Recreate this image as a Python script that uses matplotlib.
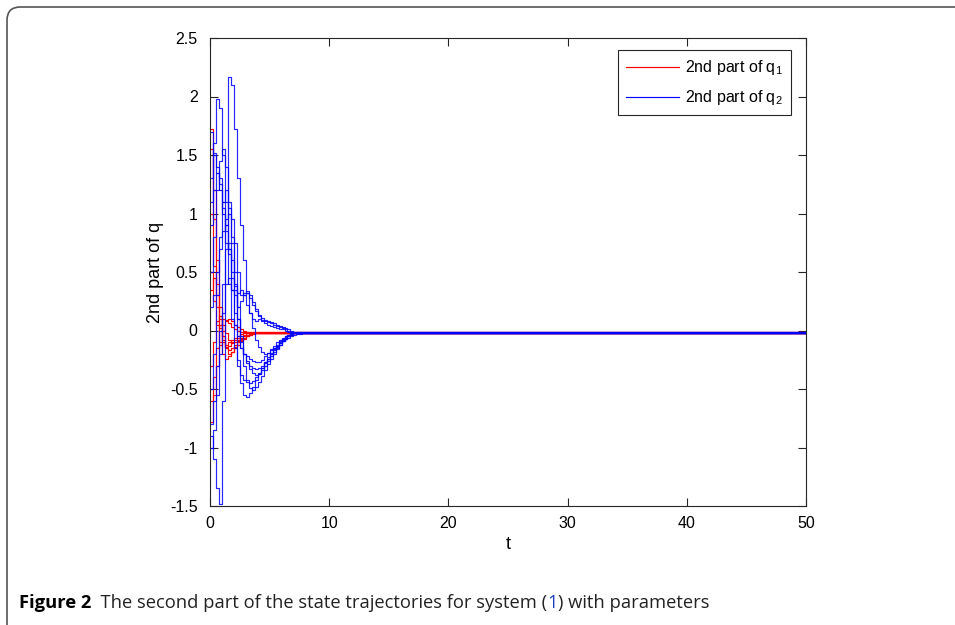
import numpy as np
import matplotlib
matplotlib.use("Agg")
import matplotlib.pyplot as plt
from matplotlib.patches import FancyBboxPatch

plt.rcParams['font.family'] = ['Liberation Sans', 'DejaVu Sans']
plt.rcParams['mathtext.fontset'] = 'custom'
plt.rcParams['mathtext.rm'] = 'Liberation Sans'
plt.rcParams['mathtext.it'] = 'Liberation Sans'

# ---------------- data ----------------
dt = 0.25            # sampling step of the trajectories
t_end = 50.0
steady = -0.02       # common final value

q1_part2 = [
    [1.72, 1.2, 0.6, 0.2, -0.05, -0.15, -0.2, -0.18, -0.15, -0.12, -0.09, -0.07, -0.05, -0.04, -0.03, -0.025],
    [1.55, 0.95, 0.4, 0.05, -0.1, -0.14, -0.13, -0.1, -0.08, -0.06, -0.045, -0.035, -0.025],
    [1.0, 0.55, 0.2, 0.02, -0.08, -0.12, -0.1, -0.08, -0.06, -0.045, -0.03, -0.025],
    [-0.78, -0.55, -0.3, -0.12, 0.0, 0.08, 0.1, 0.08, 0.05, 0.03, 0.01, 0.0, -0.01, -0.015],
    [-0.6, -0.4, -0.15, 0.05, 0.1, 0.09, 0.06, 0.03, 0.01, 0.0, -0.01, -0.015],
    [0.5, 0.25, 0.05, -0.1, -0.2, -0.24, -0.22, -0.18, -0.14, -0.1, -0.08, -0.06, -0.045, -0.035, -0.025],
    [-0.3, -0.1, 0.08, 0.12, 0.05, -0.02, -0.08, -0.11, -0.1, -0.08, -0.06, -0.045, -0.035, -0.025],
    [0.35, 0.45, 0.3, 0.1, -0.05, -0.15, -0.17, -0.15, -0.12, -0.09, -0.07, -0.05, -0.04, -0.03, -0.025],
]

q2_part2 = [
    [-0.9, -1.1, -1.35, -1.48, -0.6, 0.9, 2.17, 2.1, 1.72, 1.3, 0.9, 0.6, 0.32, 0.15, 0.02,
     -0.08, -0.14, -0.18, -0.2, -0.19, -0.17, -0.15, -0.13, -0.11, -0.09, -0.075, -0.06, -0.05,
     -0.04, -0.033, -0.027, -0.022],
    [1.1, 1.6, 1.98, 1.9, 1.5, 1.1, 0.7, 0.35, 0.05, -0.25, -0.45, -0.55, -0.57, -0.53, -0.48,
     -0.42, -0.37, -0.32, -0.27, -0.23, -0.19, -0.15, -0.12, -0.09, -0.07, -0.05, -0.035, -0.025],
    [0.5, 0.8, 1.2, 1.45, 1.55, 1.4, 1.1, 0.75, 0.4, 0.1, -0.15, -0.3, -0.42, -0.49, -0.51,
     -0.48, -0.44, -0.39, -0.34, -0.29, -0.24, -0.2, -0.16, -0.12, -0.09, -0.07, -0.05, -0.035,
     -0.025],
    [1.7, 1.5, 1.35, 1.25, 1.05, 0.75, 0.4, 0.1, -0.15, -0.3, -0.38, -0.42, -0.44, -0.45,
     -0.43, -0.4, -0.36, -0.32, -0.28, -0.24, -0.2, -0.16, -0.13, -0.1, -0.075, -0.055, -0.04,
     -0.03, -0.022],
    [1.3, 1.52, 1.4, 1.2, 1.0, 0.85, 0.65, 0.45, 0.3, 0.2, 0.25, 0.3, 0.32, 0.28, 0.22, 0.17,
     0.13, 0.11, 0.09, 0.08, 0.07, 0.06, 0.05, 0.04, 0.03, 0.02, 0.01, 0.0, -0.01, -0.015],
    [-0.5, -0.2, 0.3, 0.8, 1.1, 1.2, 1.05, 0.8, 0.5, 0.2, -0.05, -0.2, -0.28, -0.33, -0.36,
     -0.38, -0.37, -0.34, -0.3, -0.26, -0.22, -0.18, -0.15, -0.12, -0.09, -0.07, -0.05, -0.035,
     -0.025],
    [0.2, 0.3, 0.5, 0.7, 0.85, 0.95, 1.0, 0.95, 0.75, 0.5, 0.3, 0.32, 0.34, 0.3, 0.24, 0.18,
     0.12, 0.08, 0.06, 0.05, 0.04, 0.03, 0.02, 0.015, 0.01, 0.0, -0.01, -0.015],
    [-0.8, -0.6, -0.3, 0.0, 0.4, 0.7, 0.75, 0.6, 0.35, 0.1, -0.1, -0.2, -0.26, -0.3, -0.32,
     -0.33, -0.32, -0.3, -0.27, -0.24, -0.2, -0.17, -0.14, -0.11, -0.08, -0.06, -0.045, -0.03,
     -0.022],
    [-1.0, -0.85, -0.55, -0.2, 0.15, 0.4, 0.45, 0.35, 0.15, -0.05, -0.15, -0.2, -0.22, -0.24,
     -0.26, -0.27, -0.27, -0.25, -0.22, -0.19, -0.16, -0.13, -0.1, -0.08, -0.06, -0.045, -0.035,
     -0.025],
    [0.9, 1.2, 1.35, 1.3, 1.1, 0.9, 0.7, 0.5, 0.38, 0.32, 0.35, 0.3, 0.22, 0.15, 0.1, 0.08,
     0.1, 0.09, 0.08, 0.07, 0.06, 0.05, 0.04, 0.03, 0.02, 0.01, 0.0, -0.01, -0.015],
]

x_ticks = [0, 10, 20, 30, 40, 50]
y_ticks = [-1.5, -1, -0.5, 0, 0.5, 1, 1.5, 2, 2.5]
y_tick_labels = ['-1.5', '-1', '-0.5', '0', '0.5', '1', '1.5', '2', '2.5']
legend_labels = ['2nd part of q$_1$', '2nd part of q$_2$']
x_label = 't'
y_label = '2nd part of q'
caption_bold = 'Figure 2'
caption_pre = '  The second part of the state trajectories for system ('
caption_ref = '1'
caption_post = ') with parameters'

# ---------------- figure ----------------
W, H = 955, 625
fig = plt.figure(figsize=(W / 100, H / 100), dpi=100)
fig.patch.set_facecolor('white')

# outer rounded frame (only top & left edges visible)
frame = FancyBboxPatch((7 / W, -0.2), 1.3, 1.2 - 7 / H,
                       boxstyle="round,pad=0,rounding_size=0.014",
                       transform=fig.transFigure, fill=False,
                       edgecolor='#555555', linewidth=1.2, mutation_aspect=W / H)
fig.patches.append(frame)

ax = fig.add_axes([210 / W, 1 - 506 / H, 596 / W, 468 / H])
mfont = ['Liberation Sans', 'DejaVu Sans']


def series(vals):
    v = list(vals)
    t = [i * dt for i in range(len(v))]
    t.append(t_end)
    v.append(steady)
    return np.array(t), np.array(v)


red_handle = None
blue_handle = None
for vals in q1_part2:
    t, v = series(vals)
    h, = ax.plot(t, v, drawstyle='steps-post', color='#ff0000', lw=0.85)
    red_handle = h
for vals in q2_part2:
    t, v = series(vals)
    h, = ax.plot(t, v, drawstyle='steps-post', color='#0000ff', lw=0.85, alpha=0.85)
    blue_handle = h

ax.set_xlim(0, 50)
ax.set_ylim(-1.5, 2.5)
ax.set_xticks(x_ticks)
ax.set_xticklabels([str(x) for x in x_ticks], fontsize=11.5, family=mfont)
ax.set_yticks(y_ticks)
ax.set_yticklabels(y_tick_labels, fontsize=11.5, family=mfont)
ax.tick_params(direction='in', length=6, width=0.8, top=True, right=True,
               colors='#262626', labelcolor='black')
ax.tick_params(axis='y', pad=9)
ax.tick_params(axis='x', pad=7)
for s in ax.spines.values():
    s.set_color('#262626')
    s.set_linewidth(0.8)
ax.set_xlabel(x_label, fontsize=13, family=mfont, labelpad=4)
ax.set_ylabel(y_label, fontsize=13, family=mfont, labelpad=4)

leg = ax.legend([red_handle, blue_handle], legend_labels, loc='upper right',
                bbox_to_anchor=(0.975, 0.974), fancybox=False, framealpha=1,
                edgecolor='#262626', prop={'family': mfont, 'size': 11.5},
                handlelength=3.3, handletextpad=0.4, borderpad=0.5, labelspacing=0.7,
                borderaxespad=0.0)
leg.get_frame().set_linewidth(0.8)
for lh in leg.get_lines():
    lh.set_alpha(1)

# ---------------- caption ----------------
cap_font = ['Open Sans', 'DejaVu Sans']
renderer = fig.canvas.get_renderer()
x0 = 19 / W
y0 = 1 - 603 / H
pieces = [(caption_bold, 'bold', 'black'), (caption_pre, 'normal', '#222222'),
          (caption_ref, 'normal', '#1a3fbf'), (caption_post, 'normal', '#222222')]
x = x0
for txt, wgt, col in pieces:
    tt = fig.text(x, y0, txt, fontsize=13.2, fontweight=wgt, color=col,
                  family=cap_font, va='center', ha='left')
    bb = tt.get_window_extent(renderer=renderer)
    x += bb.width / W

fig.savefig('out.png', dpi=100)
